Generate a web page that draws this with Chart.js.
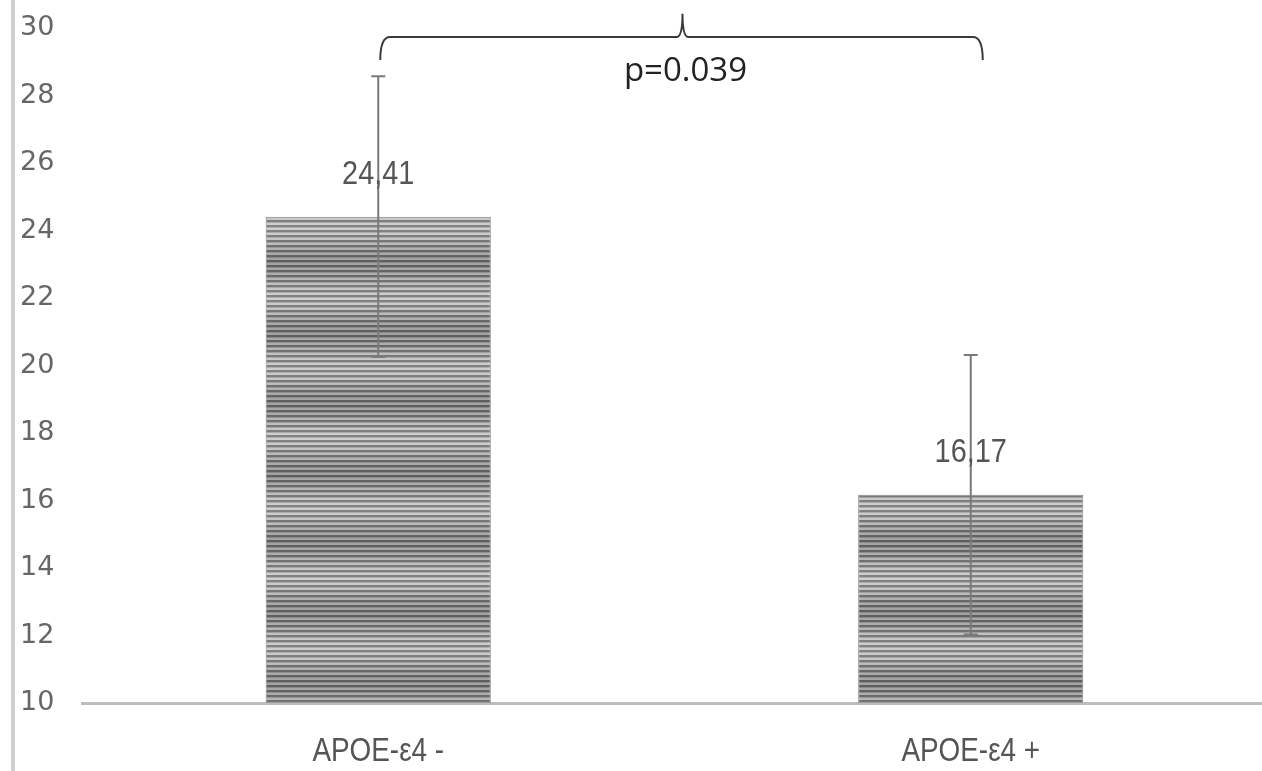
<!DOCTYPE html>
<html>
<head>
<meta charset="utf-8">
<script src="https://cdn.jsdelivr.net/npm/chart.js@4/dist/chart.umd.min.js"></script>
<style>
  html, body { margin: 0; padding: 0; background: #fff; overflow: hidden; }
  #wrap { width: 1262px; height: 771px; position: relative; overflow: hidden; }
</style>
</head>
<body>
<div id="wrap"><canvas id="c" width="1267" height="771"></canvas></div>
<script>
const categories = ['APOE-ε4 -', 'APOE-ε4 +'];
const means = [24.41, 16.17];
const errors = [4.16, 4.14];
const valueLabels = ['24,41', '16,17'];
const yTicks = [10, 12, 14, 16, 18, 20, 22, 24, 26, 28, 30];
const pLabel = 'p=0.039';

function makeStripePattern(ctx) {
  const c = document.createElement('canvas');
  const h = 70;
  c.width = 4; c.height = h;
  const g = c.getContext('2d');
  for (let y = 0; y < h; y++) {
    const mod = Math.sin(2 * Math.PI * y / h);
    const phase = y % 5;
    let v;
    if (phase < 2) v = 112 + 18 * mod;
    else if (phase === 2) v = 155 + 18 * mod;
    else v = 185 + 22 * mod;
    v = Math.max(85, Math.min(225, Math.round(v)));
    g.fillStyle = `rgb(${v},${v},${v})`;
    g.fillRect(0, y, 4, 1);
  }
  return ctx.createPattern(c, 'repeat');
}

function narrowText(c, text, x, y, sx) {
  c.save();
  c.translate(x, y);
  c.scale(sx, 1);
  c.fillText(text, 0, 0);
  c.restore();
}

const ctx = document.getElementById('c').getContext('2d');
const pattern = makeStripePattern(ctx);

const decorations = {
  id: 'decorations',
  beforeDraw(chart) {
    const c = chart.ctx;
    c.save();
    c.fillStyle = '#fff';
    c.fillRect(0, 0, chart.width, chart.height);
    c.strokeStyle = '#cfcfcf';
    c.lineWidth = 4;
    c.beginPath();
    c.moveTo(13, 0);
    c.lineTo(13, chart.height);
    c.stroke();
    c.restore();
  },
  afterDraw(chart) {
    const c = chart.ctx;
    const x = chart.scales.x;
    c.save();
    c.fillStyle = '#555';
    c.font = '34px "Liberation Sans", sans-serif';
    c.textAlign = 'center';
    c.textBaseline = 'middle';
    categories.forEach((lab, i) => {
      narrowText(c, lab, x.getPixelForValue(i), 752, 0.82);
    });
    c.restore();
  },
  afterDatasetsDraw(chart) {
    const c = chart.ctx;
    const x = chart.scales.x, y = chart.scales.y;
    c.save();
    // error bars
    c.strokeStyle = '#7a7a7a';
    c.lineWidth = 2;
    means.forEach((m, i) => {
      const px = x.getPixelForValue(i);
      const top = y.getPixelForValue(m + errors[i]);
      const bot = y.getPixelForValue(m - errors[i]);
      c.beginPath();
      c.moveTo(px, top); c.lineTo(px, bot);
      c.moveTo(px - 7, top); c.lineTo(px + 7, top);
      c.moveTo(px - 7, bot); c.lineTo(px + 7, bot);
      c.stroke();
    });
    // value labels
    c.fillStyle = '#555';
    c.font = '34px "Liberation Sans", sans-serif';
    c.textAlign = 'center';
    c.textBaseline = 'middle';
    means.forEach((m, i) => {
      const px = x.getPixelForValue(i);
      const py = y.getPixelForValue(m) - 42;
      narrowText(c, valueLabels[i], px, py, 0.85);
    });
    // bracket
    const l = x.getPixelForValue(0) + 2;
    const r = x.getPixelForValue(1) + 12;
    const mid = (l + r) / 2 + 1;
    const yl = y.getPixelForValue(29.73);
    const ye = y.getPixelForValue(29.05);
    const yp = y.getPixelForValue(30.42);
    c.strokeStyle = '#3a3a3a';
    c.lineWidth = 2;
    c.beginPath();
    c.moveTo(l, ye);
    c.quadraticCurveTo(l, yl, l + 10, yl);
    c.lineTo(mid - 6, yl);
    c.quadraticCurveTo(mid, yl, mid, yp);
    c.quadraticCurveTo(mid, yl, mid + 6, yl);
    c.lineTo(r - 10, yl);
    c.quadraticCurveTo(r, yl, r, ye);
    c.stroke();
    c.fillStyle = '#222';
    c.font = '33px "Open Sans", sans-serif';
    c.textAlign = 'center';
    c.textBaseline = 'alphabetic';
    c.fillText(pLabel, mid + 3, y.getPixelForValue(28.42));
    c.restore();
  }
};

new Chart(ctx, {
  type: 'bar',
  data: {
    labels: categories,
    datasets: [{
      data: means,
      backgroundColor: pattern,
      borderColor: '#8a8a8a',
      borderWidth: { left: 1, right: 1, top: 1, bottom: 0 },
      borderSkipped: false,
      categoryPercentage: 0.38,
      barPercentage: 1.0
    }]
  },
  options: {
    responsive: false,
    animation: false,
    devicePixelRatio: 1,
    layout: { padding: { left: 20, top: 28, right: 0, bottom: 0 } },
    plugins: { legend: { display: false }, tooltip: { enabled: false } },
    scales: {
      x: {
        grid: { display: false, drawTicks: false },
        border: { display: true, color: '#bdbdbd', width: 3 },
        ticks: { display: false },
        afterFit(s) { s.height = 68; }
      },
      y: {
        min: 10, max: 30,
        afterBuildTicks(s) { s.ticks = yTicks.map(v => ({ value: v })); },
        grid: { display: false, drawTicks: false },
        border: { display: false },
        ticks: {
          color: '#666',
          crossAlign: 'far',
          padding: 0,
          font: { family: '"DejaVu Sans", sans-serif', size: 27 }
        },
        afterFit(s) { s.width = 62; }
      }
    }
  },
  plugins: [decorations]
});
</script>
</body>
</html>
